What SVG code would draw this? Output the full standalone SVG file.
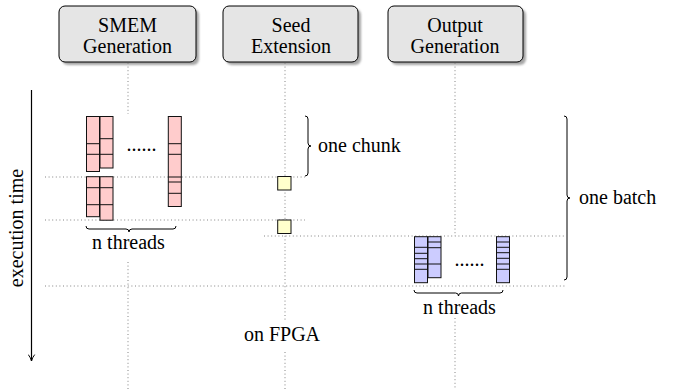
<svg xmlns="http://www.w3.org/2000/svg" width="673" height="389" viewBox="0 0 673 389">
<defs>
<style>
text{font-family:"Liberation Serif","Times New Roman",serif;font-size:20px;fill:#000}
.box{fill:#e5e5e5;stroke:#000;stroke-width:1}
.shadow{fill:#888;opacity:0.75}
.dot{fill:none;stroke:#666;stroke-width:0.8;stroke-dasharray:1 2.6}
.red{fill:#ffcccc;stroke:#111;stroke-width:1}
.blue{fill:#ccccff;stroke:#111;stroke-width:1}
.yel{fill:#ffffcc;stroke:#111;stroke-width:1}
.div{stroke:#111;stroke-width:1;fill:none}
.brace{fill:none;stroke:#000;stroke-width:1}
</style>
<filter id="blur" x="-10%" y="-10%" width="120%" height="120%">
<feGaussianBlur stdDeviation="1"/>
</filter>
<marker id="arr" viewBox="0 0 10 10" refX="9" refY="5" markerWidth="8" markerHeight="8" orient="auto" markerUnits="userSpaceOnUse">
<path d="M1,1 Q5,4 9,5 Q5,6 1,9" fill="none" stroke="#000" stroke-width="1.2"/>
</marker>
</defs>
<rect width="673" height="389" fill="#fff"/>

<g id="connectors">
<line class="dot" x1="128" y1="63" x2="128" y2="114"/>
<line class="dot" x1="128" y1="262" x2="128" y2="389"/>
<line class="dot" x1="285" y1="63" x2="285" y2="320"/>
<line class="dot" x1="285" y1="352" x2="285" y2="389"/>
<line class="dot" x1="455" y1="63" x2="455" y2="236"/>
<line class="dot" x1="455" y1="318" x2="455" y2="389"/>
<line class="dot" x1="45" y1="177" x2="305" y2="177"/>
<line class="dot" x1="45" y1="220" x2="305" y2="220"/>
<line class="dot" x1="264" y1="236" x2="565" y2="236"/>
<line class="dot" x1="45" y1="286" x2="565" y2="286"/>
<line x1="31.5" y1="90" x2="31.5" y2="361" stroke="#000" stroke-width="1.2" marker-end="url(#arr)"/>
</g>

<g id="box-smem">
<rect class="shadow" x="62" y="9" width="137" height="56" rx="6" filter="url(#blur)"/>
<rect class="box" x="59" y="6" width="137" height="56" rx="6"/>
<text x="127.5" y="31.5" text-anchor="middle">SMEM</text>
<text x="127.5" y="53" text-anchor="middle">Generation</text>
</g>
<g id="box-seed">
<rect class="shadow" x="226" y="9" width="135" height="56" rx="6" filter="url(#blur)"/>
<rect class="box" x="223" y="6" width="135" height="56" rx="6"/>
<text x="291" y="31.5" text-anchor="middle">Seed</text>
<text x="291" y="53" text-anchor="middle">Extension</text>
</g>
<g id="box-output">
<rect class="shadow" x="391" y="9" width="135" height="56" rx="6" filter="url(#blur)"/>
<rect class="box" x="388" y="6" width="135" height="56" rx="6"/>
<text x="455" y="31.5" text-anchor="middle">Output</text>
<text x="455" y="53" text-anchor="middle">Generation</text>
</g>

<g id="smem-threads">
<rect class="red" x="86.5" y="116.5" width="13" height="55"/>
<path class="div" d="M86.5,143.7H99.5M86.5,154.3H99.5"/>
<rect class="red" x="100" y="116.5" width="13" height="51.5"/>
<path class="div" d="M100,138.7H113M100,154.3H113"/>
<rect class="red" x="168.3" y="116.5" width="13" height="90"/>
<path class="div" d="M168.3,143.7H181.3M168.3,154.3H181.3M168.3,177H181.3M168.3,182H181.3M168.3,193.3H181.3"/>
<rect class="red" x="86.5" y="176.7" width="13" height="40"/>
<path class="div" d="M86.5,187.7H99.5M86.5,204.7H99.5"/>
<rect class="red" x="100" y="176.7" width="13" height="43.5"/>
<path class="div" d="M100,187.7H113M100,204.7H113"/>
<text x="126.5" y="151" font-size="19">......</text>
<path class="brace" d="M86,226 Q86,229 89,229 L126,229 Q129,229 129,232 Q129,229 132,229 L173,229 Q176,229 176,226"/>
<text x="128.5" y="248.5" text-anchor="middle">n threads</text>
</g>

<g id="seed-chunks">
<rect class="yel" x="277.7" y="176.5" width="13.3" height="13.5"/>
<rect class="yel" x="277.7" y="220" width="13.3" height="13.5"/>
</g>

<g id="output-threads">
<rect class="blue" x="414.5" y="236.7" width="13" height="46"/>
<path class="div" d="M414.5,247.3H427.5M414.5,253.3H427.5M414.5,258.7H427.5M414.5,264H427.5M414.5,269.3H427.5"/>
<rect class="blue" x="428" y="236.7" width="13" height="41"/>
<path class="div" d="M428,242H441M428,247.7H441M428,264H441"/>
<rect class="blue" x="496.5" y="236.7" width="13" height="46"/>
<path class="div" d="M496.5,242H509.5M496.5,247.3H509.5M496.5,252.7H509.5M496.5,258.3H509.5M496.5,264H509.5M496.5,269.3H509.5"/>
<text x="454.5" y="266" font-size="20">......</text>
<path class="brace" d="M414,290 Q414,293 417,293 L455.5,293 Q458.5,293 458.5,296 Q458.5,293 461.5,293 L500,293 Q503,293 503,290"/>
<text x="459.5" y="314" text-anchor="middle">n threads</text>
</g>

<g id="chunk-label">
<path class="brace" d="M305,116 Q308,116 308,119 L308,143 Q308,146 311,146 Q308,146 308,149 L308,173 Q308,176 305,176"/>
<text x="318" y="152">one chunk</text>
</g>

<g id="batch-label">
<path class="brace" d="M564,116 Q567,116 567,119 L567,195 Q567,198 570,198 Q567,198 567,201 L567,277 Q567,280 564,280"/>
<text x="579" y="204">one batch</text>
</g>

<g id="fpga-label">
<text x="282" y="341" text-anchor="middle">on FPGA</text>
</g>

<g id="time-label">
<text transform="translate(23,228) rotate(-90)" text-anchor="middle">execution time</text>
</g>
</svg>
